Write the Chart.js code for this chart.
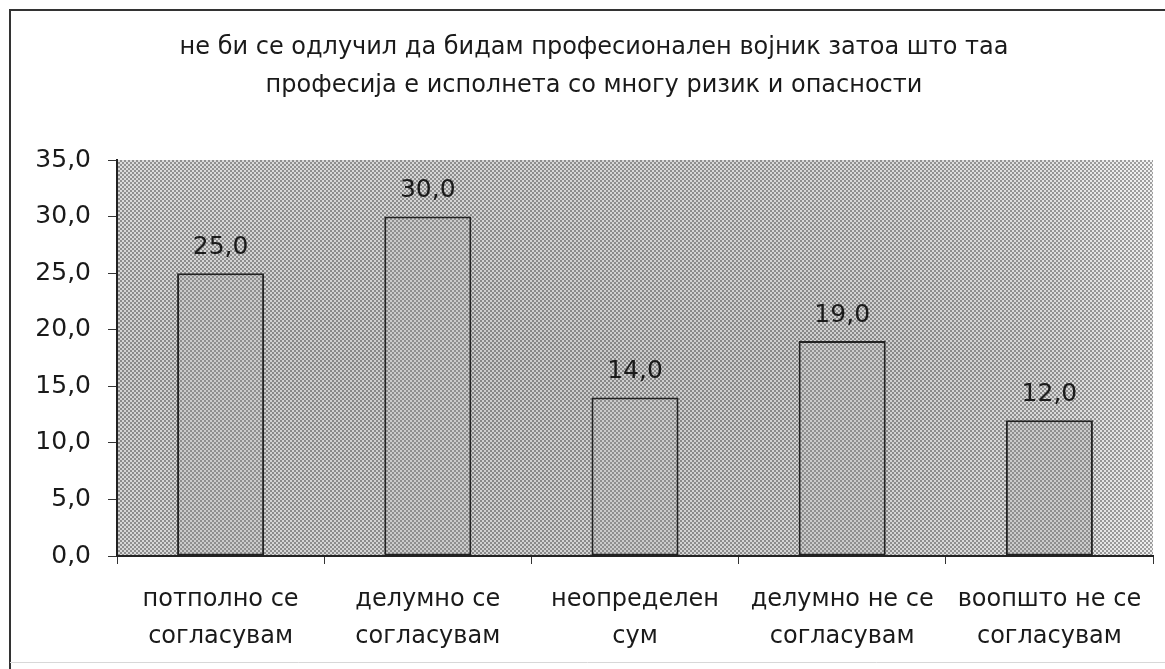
<!DOCTYPE html>
<html>
<head>
<meta charset="utf-8">
<script src="https://cdn.jsdelivr.net/npm/chart.js@4.4.1/dist/chart.umd.min.js"></script>
<style>
  html, body { margin: 0; padding: 0; background: #fff; }
  #wrap { width: 1165px; height: 669px; }
</style>
</head>
<body>
<div id="wrap"><canvas id="chart" width="1165" height="669"></canvas></div>
<script>
// Chart data
const titleLines = [
    'не би се одлучил да бидам професионален војник затоа што таа',
    'професија е исполнета со многу ризик и опасности'
];
const categories = [
    ['потполно се', 'согласувам'],
    ['делумно се', 'согласувам'],
    ['неопределен', 'сум'],
    ['делумно не се', 'согласувам'],
    ['воопшто не се', 'согласувам']
];
const percentages = [25.0, 30.0, 14.0, 19.0, 12.0];
const yTicks = [0, 5, 10, 15, 20, 25, 30, 35];

const FONT = "'DejaVu Sans', 'Liberation Sans', sans-serif";

// Comma decimal, like the original
const fmt = (v) => v.toFixed(1).replace('.', ',');

// 2px checker cells, a rough stand-in for the print halftone
function makeChecker(light, dark) {
    const c = document.createElement('canvas');
    c.width = 4;
    c.height = 4;
    const g = c.getContext('2d');
    g.fillStyle = light;
    g.fillRect(0, 0, 4, 4);
    g.fillStyle = dark;
    g.fillRect(0, 0, 2, 2);
    g.fillRect(2, 2, 2, 2);
    return g.createPattern(c, 'repeat');
}

const ctx = document.getElementById('chart').getContext('2d');
const barPattern = makeChecker('#cbcbcb', '#8e8e8e');

// White page, scan frame and dotted plot background
const backdrop = {
    id: 'backdrop',
    beforeDraw(chart) {
        const { ctx, chartArea: a, width, height } = chart;
        const w = a.right - a.left;
        const h = a.bottom - a.top;
        ctx.save();
        ctx.fillStyle = '#ffffff';
        ctx.fillRect(0, 0, width, height);

        ctx.strokeStyle = '#333';
        ctx.lineWidth = 2;
        ctx.beginPath();
        ctx.moveTo(10, height);
        ctx.lineTo(10, 10);
        ctx.lineTo(width, 10);
        ctx.stroke();
        ctx.strokeStyle = '#d8d8d8';
        ctx.lineWidth = 1;
        ctx.beginPath();
        ctx.moveTo(10, 662.5);
        ctx.lineTo(width, 662.5);
        ctx.stroke();

        const grad = ctx.createLinearGradient(a.left, 0, a.right, 0);
        grad.addColorStop(0, '#dcdcdc');
        grad.addColorStop(0.35, '#d6d6d6');
        grad.addColorStop(0.75, '#dadada');
        grad.addColorStop(0.9, '#e2e2e2');
        grad.addColorStop(1, '#f2f2f2');
        ctx.fillStyle = grad;
        ctx.fillRect(a.left, a.top, w, h);
        // slightly darker band low in the plot
        const band = ctx.createLinearGradient(0, a.top, 0, a.bottom);
        band.addColorStop(0, 'rgba(0,0,0,0)');
        band.addColorStop(0.5, 'rgba(0,0,0,0.05)');
        band.addColorStop(1, 'rgba(0,0,0,0.02)');
        ctx.fillStyle = band;
        ctx.fillRect(a.left, a.top, w, h);
        ctx.fillStyle = makeChecker('rgba(0,0,0,0)', 'rgba(0,0,0,0.34)');
        ctx.fillRect(a.left, a.top, w, h);

        // two-line title, set a little right of the page centre as in the scan
        ctx.font = `24px ${FONT}`;
        ctx.fillStyle = '#1a1a1a';
        ctx.textAlign = 'center';
        ctx.textBaseline = 'middle';
        titleLines.forEach((line, i) => ctx.fillText(line, 594, 48 + i * 38));
        ctx.restore();
    }
};

// Value labels above each bar
const valueLabels = {
    id: 'valueLabels',
    afterDatasetsDraw(chart) {
        const { ctx } = chart;
        const meta = chart.getDatasetMeta(0);
        ctx.save();
        ctx.font = `25px ${FONT}`;
        ctx.fillStyle = '#1a1a1a';
        ctx.textAlign = 'center';
        ctx.textBaseline = 'middle';
        meta.data.forEach((bar, i) => {
            ctx.fillText(fmt(percentages[i]), bar.x, bar.y - 26);
        });
        ctx.restore();
    }
};

new Chart(ctx, {
    type: 'bar',
    data: {
        labels: categories,
        datasets: [{
            data: percentages,
            backgroundColor: barPattern,
            borderColor: '#222',
            borderWidth: 2,
            borderSkipped: false,
            barPercentage: 0.42,
            categoryPercentage: 1.0
        }]
    },
    options: {
        responsive: false,
        animation: false,
        layout: { padding: { left: 0, right: 12, top: 160, bottom: 0 } },
        plugins: {
            legend: { display: false },
            tooltip: { enabled: false },
            title: { display: false }
        },
        scales: {
            x: {
                grid: {
                    offset: true,
                    drawOnChartArea: false,
                    tickLength: 8,
                    color: '#333'
                },
                border: { color: '#222', width: 2 },
                ticks: {
                    color: '#1a1a1a',
                    font: { family: FONT, size: 24, lineHeight: 1.54 },
                    padding: 17,
                    maxRotation: 0,
                    autoSkip: false
                },
                afterFit: (scale) => { scale.height = 113; }
            },
            y: {
                min: 0,
                max: 35,
                afterBuildTicks: (scale) => { scale.ticks = yTicks.map(v => ({ value: v })); },
                grid: {
                    drawOnChartArea: false,
                    tickLength: 9,
                    color: '#333'
                },
                border: { color: '#222', width: 2 },
                ticks: {
                    color: '#1a1a1a',
                    font: { family: FONT, size: 25 },
                    padding: 17,
                    callback: (v) => fmt(v)
                },
                afterFit: (scale) => { scale.width = 117; }
            }
        }
    },
    plugins: [backdrop, valueLabels]
});
</script>
</body>
</html>
